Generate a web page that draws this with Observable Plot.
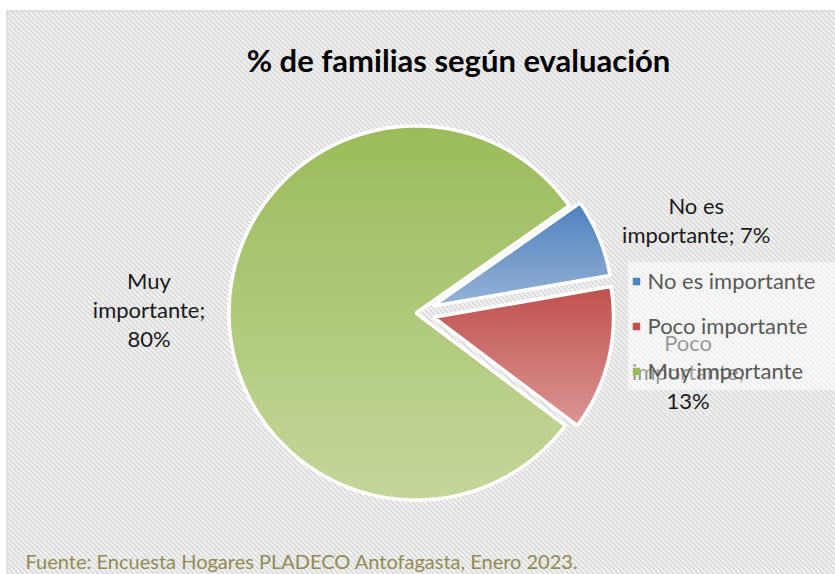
<!DOCTYPE html>
<html>
<head>
<meta charset="utf-8">
<script src="https://cdn.jsdelivr.net/npm/d3@7"></script>
<script src="https://cdn.jsdelivr.net/npm/@observablehq/plot@0.6"></script>
<style>
  html, body { margin: 0; padding: 0; background: #fff; }
  #chart svg { display: block; }
</style>
</head>
<body>
<div id="chart"></div>
<script>
// ---- Data ----
const categories = ["No es importante", "Poco importante", "Muy importante"];
const values = [7, 13, 80];
const labelTexts = ["No es\nimportante; 7%", "Poco\nimportante;\n13%", "Muy\nimportante;\n80%"];
const titleText = "% de familias según evaluación";
const sourceText = "Fuente: Encuesta Hogares PLADECO Antofagasta, Enero 2023.";

// ---- Style / layout ----
const W = 835, H = 574;
const font = "Lato, 'Open Sans', sans-serif";
const topColors = ["#4f81bd", "#c0504d", "#9bbb59"];
const bottomColors = ["#95b3d7", "#da9694", "#c4d79b"];
const cx = 415.5, cy = 312.5;
const radii = [180, 180, 187];
const explode = [18, 18, 0];
const labelDist = [270, 262, 267];
const labelNudge = [[14, 16], [0, -8], [0, 0]];
const startDeg = 55;

const pie = d3.pie().sort(null)
  .startAngle(startDeg * Math.PI / 180)
  .endAngle(startDeg * Math.PI / 180 + 2 * Math.PI)(values);

const pt = (ox, oy, r, a) => [ox + r * Math.sin(a), oy - r * Math.cos(a)];

const slices = pie.map((p, i) => {
  const mid = (p.startAngle + p.endAngle) / 2;
  const [vx, vy] = pt(cx, cy, explode[i], mid);
  const pts = [{x: vx, y: vy}];
  const n = Math.max(8, Math.ceil((p.endAngle - p.startAngle) / (Math.PI / 360)));
  for (let k = 0; k <= n; k++) {
    const a = p.startAngle + (p.endAngle - p.startAngle) * k / n;
    const [x, y] = pt(vx, vy, radii[i], a);
    pts.push({x, y});
  }
  const [lx, ly] = pt(vx, vy, labelDist[i], mid);
  return {pts, label: {x: lx + labelNudge[i][0], y: ly + labelNudge[i][1], text: labelTexts[i]}};
});

const legendX = 636, legendY0 = 281, legendStep = 45;
const legend = categories.map((c, i) => ({name: c, x: legendX, y: legendY0 + i * legendStep, color: topColors[i]}));

const chart = Plot.plot({
  width: W, height: H,
  margin: 0,
  x: {domain: [0, W], range: [0, W], axis: null},
  y: {domain: [0, H], range: [0, H], axis: null},
  style: {fontFamily: font, background: "#fff"},
  marks: [
    Plot.frame({fill: "url(#hatch)", stroke: "#d9d9d9", strokeWidth: 1.5, insetLeft: 6.5, insetTop: 10.5, insetRight: -4, insetBottom: -4}),
    ...slices.map((s, i) => Plot.line(s.pts, {
      x: "x", y: "y", curve: "linear-closed",
      fill: `url(#grad${i})`, stroke: "#fff", strokeWidth: 3.5, strokeLinejoin: "miter"
    })),
    Plot.text(slices.map(s => s.label), {
      x: "x", y: "y", text: "text", fontSize: 22, lineHeight: 1.32, fill: "#1a1a1a",
      textAnchor: "middle", lineAnchor: "middle"
    }),
    Plot.rect([{x1: 628, x2: W + 10, y1: 262, y2: 390}], {
      x1: "x1", x2: "x2", y1: "y1", y2: "y2", fill: "#fff", fillOpacity: 0.55
    }),
    Plot.dot(legend, {x: "x", y: "y", symbol: "square", r: 4.2, fill: "color", stroke: "none"}),
    Plot.text(legend, {x: d => d.x + 11, y: "y", text: "name", textAnchor: "start", fontSize: 22, fill: "#595959"}),
    Plot.text([titleText], {x: () => 458, y: () => 62, text: d => d, fontSize: 31, fontWeight: "bold", fill: "#000"}),
    Plot.text([sourceText], {x: () => 25, y: () => 562, text: d => d, textAnchor: "start", fontSize: 20, fill: "#948a54"})
  ]
});

// gradients + hatch pattern
const grads = topColors.map((c, i) =>
  `<linearGradient id="grad${i}" x1="0" y1="0" x2="0" y2="1"><stop offset="0" stop-color="${c}"/><stop offset="1" stop-color="${bottomColors[i]}"/></linearGradient>`).join("");
const hatch = `<pattern id="hatch" patternUnits="userSpaceOnUse" width="5" height="5">
  <rect width="5" height="5" fill="#fff"/>
  <path d="M-1,-1 L6,6 M-1,4 L1,6 M4,-1 L6,1" stroke="#d6d6d6" stroke-width="2"/></pattern>`;
chart.insertAdjacentHTML("afterbegin", `<defs>${grads}${hatch}</defs>`);
document.getElementById("chart").appendChild(chart);
</script>
</body>
</html>
